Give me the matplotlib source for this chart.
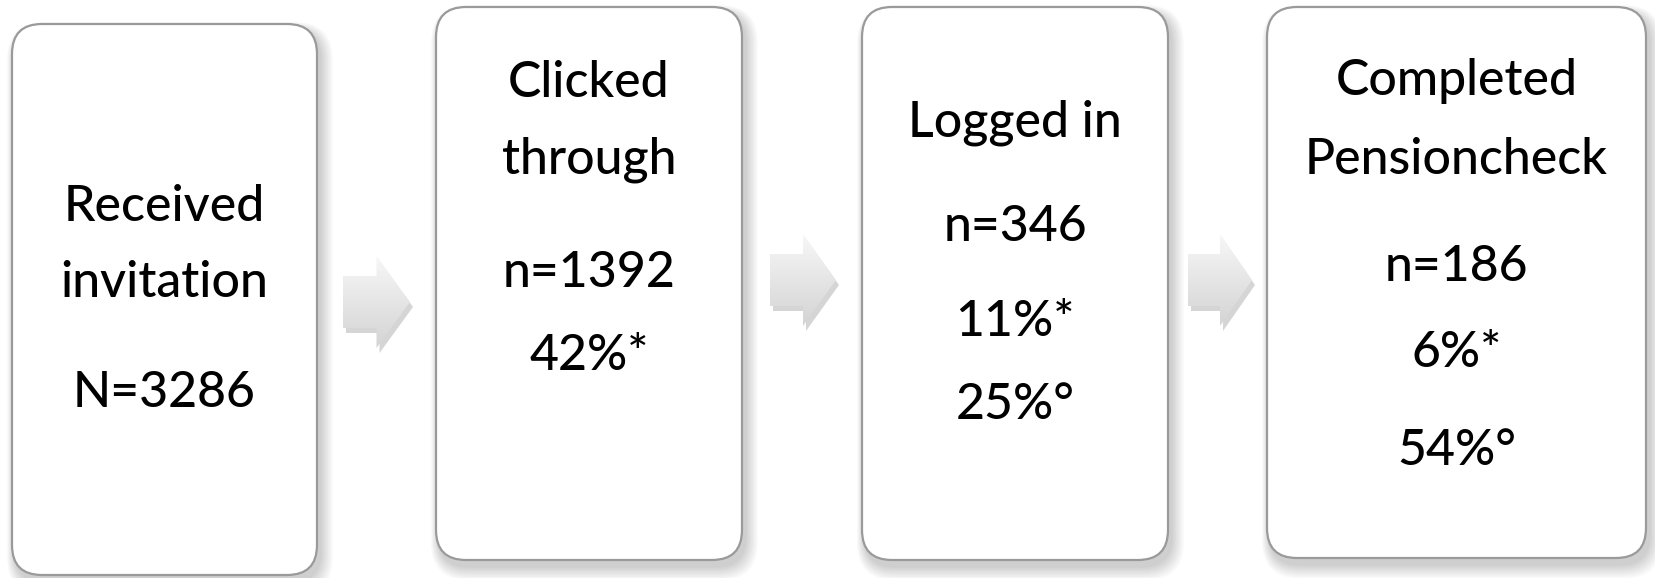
import matplotlib
matplotlib.use("Agg")
import matplotlib.pyplot as plt
import numpy as np
from matplotlib.patches import FancyBboxPatch, Polygon

plt.rcParams['font.family'] = ['Lato', 'DejaVu Sans']

# funnel data
stages = ["Received\ninvitation", "Clicked\nthrough", "Logged in", "Completed\nPensioncheck"]
counts = ["N=3286", "n=1392", "n=346", "n=186"]
pct_total = ["", "42%*", "11%*", "6%*"]
pct_prev = ["", "", "25%°", "54%°"]

W, H = 1655, 578
fig = plt.figure(figsize=(W / 100, H / 100), dpi=100)
ax = fig.add_axes([0, 0, 1, 1])
ax.set_xlim(0, W)
ax.set_ylim(H, 0)
ax.axis('off')

# box layout in pixels: left, top, right, bottom
boxes = [(12, 24, 317, 575), (436, 7, 742, 560), (862, 7, 1168, 560), (1267, 7, 1646, 558)]
# y centres of the text lines in each box
line_y = [
    [207, 283, 393],
    [83, 160, 273, 356],
    [123, 227, 322, 405],
    [81, 160, 267, 353, 451],
]
rad = 30

for i, (l, t, r, b) in enumerate(boxes):
    # soft shadow
    for k in range(8, 0, -1):
        sh = FancyBboxPatch((l + rad + 3, t + rad + 6), (r - l) - 2 * rad + k * 0.6, (b - t) - 2 * rad + k * 0.8,
                            boxstyle="round,pad=%d" % (rad + k), fc='black', ec='none', alpha=0.025, zorder=1)
        ax.add_patch(sh)
    box = FancyBboxPatch((l + rad, t + rad), (r - l) - 2 * rad, (b - t) - 2 * rad,
                         boxstyle="round,pad=%d" % rad, fc='white', ec='#9a9a9a', lw=1.6, zorder=2)
    ax.add_patch(box)

    lines = stages[i].split("\n") + [counts[i]]
    if pct_total[i]:
        lines.append(pct_total[i])
    if pct_prev[i]:
        lines.append(pct_prev[i])
    cx = (l + r) / 2
    for txt, y in zip(lines, line_y[i]):
        ax.text(cx, y, txt, ha='center', va='center', fontsize=36, fontweight='medium',
                color='black', zorder=3)

# block arrows between the boxes: body left, tip x, centre y
arrows = [(343, 410, 302), (770, 836, 280), (1188, 1252, 280)]
grad = np.linspace(0, 1, 100).reshape(-1, 1)
cmap = matplotlib.colors.LinearSegmentedColormap.from_list('g', ['#f7f7f7', '#d4d4d4'])
for x0, x1, cy in arrows:
    hx = x0 + (x1 - x0) * 0.5
    pts = [(x0, cy - 26), (hx, cy - 26), (hx, cy - 46), (x1, cy), (hx, cy + 46), (hx, cy + 26), (x0, cy + 26)]
    shadow = Polygon([(x + 3, y + 5) for x, y in pts], closed=True, fc='#888888', ec='none', alpha=0.35, zorder=1)
    ax.add_patch(shadow)
    poly = Polygon(pts, closed=True, fc='none', ec='none', zorder=2)
    ax.add_patch(poly)
    im = ax.imshow(grad, cmap=cmap, extent=(x0, x1, cy + 46, cy - 46), aspect='auto', zorder=2)
    im.set_clip_path(poly)

ax.set_xlim(0, W)
ax.set_ylim(H, 0)
fig.savefig("out.png", dpi=100)
